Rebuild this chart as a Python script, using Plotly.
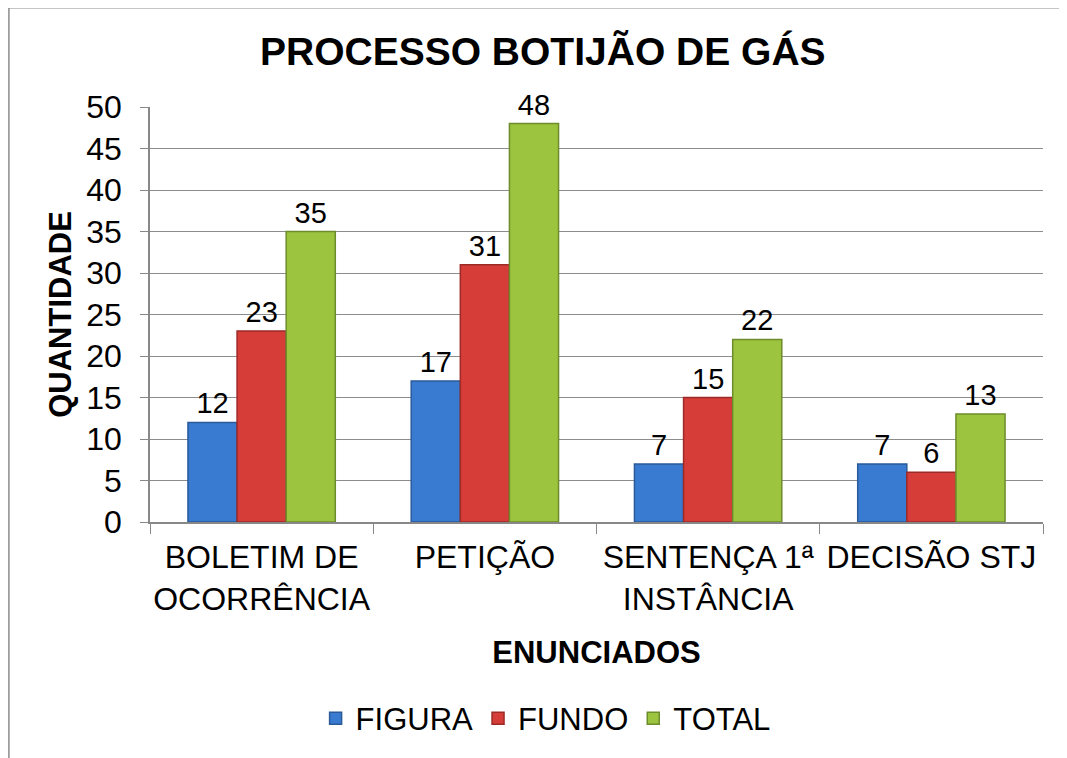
import plotly.graph_objects as go

categories = ["BOLETIM DE<br>OCORRÊNCIA", "PETIÇÃO", "SENTENÇA 1ª<br>INSTÂNCIA", "DECISÃO STJ"]
figura = [12, 17, 7, 7]
fundo = [23, 31, 15, 6]
total = [35, 48, 22, 13]

series = [
    ("FIGURA", figura, "#3a7bd2", "#2a5a98"),
    ("FUNDO", fundo, "#d63d39", "#9c2a27"),
    ("TOTAL", total, "#9cc43f", "#6d8c2b"),
]

fig = go.Figure()
for name, vals, col, line in series:
    fig.add_trace(go.Bar(
        x=categories, y=vals, name=name,
        marker=dict(color=col, line=dict(color=line, width=1.5)),
        text=[str(v) for v in vals], textposition="outside",
        textfont=dict(size=29, color="black", family="Liberation Sans"),
        cliponaxis=False,
    ))

fig.update_layout(
    width=1059, height=750,
    margin=dict(l=142, r=24, t=99, b=233),
    paper_bgcolor="white", plot_bgcolor="white",
    font=dict(family="Liberation Sans, Arial", color="black", size=30),
    title=dict(text="<b>PROCESSO BOTIJÃO DE GÁS</b>", x=0.505, xanchor="center",
               y=0.942, yanchor="middle", font=dict(size=39)),
    barmode="group", bargap=0.34, bargroupgap=0,
    showlegend=True,
    legend=dict(orientation="h", x=0.443, xanchor="center", y=-0.474, yanchor="middle",
                font=dict(size=31), itemwidth=30),
    xaxis=dict(
        showline=True, linecolor="#888888", linewidth=1.5,
        ticks="outside", tickson="boundaries", ticklen=10, tickcolor="#888888",
        tickfont=dict(size=32), tickangle=0, automargin=False, ticklabelstandoff=6,
        title=dict(text="<b>ENUNCIADOS</b>", font=dict(size=31), standoff=26),
    ),
    yaxis=dict(
        range=[0, 50], dtick=5, showgrid=True, gridcolor="#8c8c8c", gridwidth=1,
        showline=True, linecolor="#888888", linewidth=1.5,
        ticks="outside", ticklen=8, tickcolor="#888888",
        tickfont=dict(size=32), ticklabelstandoff=12, automargin=False,
        title=dict(text="<b>QUANTIDADE</b>", font=dict(size=31), standoff=5),
    ),
    shapes=[dict(type="rect", xref="paper", yref="paper",
                 x0=-0.158, x1=1.08, y0=-0.7, y1=1.239,
                 line=dict(color="#8c8c8c", width=1.5), fillcolor="rgba(0,0,0,0)",
                 layer="below")],
)

fig.write_html("out.html")
